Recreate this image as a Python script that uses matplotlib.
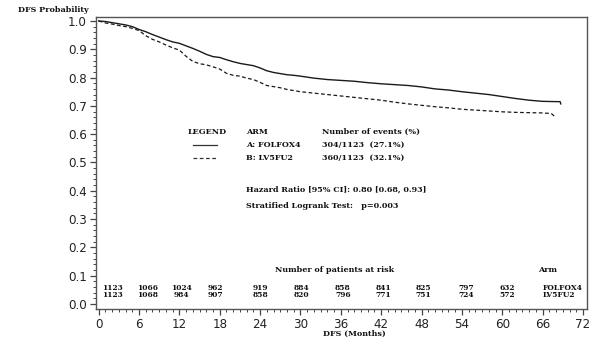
import matplotlib
matplotlib.use("Agg")
import matplotlib.pyplot as plt
from matplotlib.ticker import MultipleLocator

# Kaplan-Meier estimates
t_a = [0, 1, 2, 3, 4, 5, 6, 7, 8, 9, 10, 11, 12, 13, 14, 15, 16, 17, 18, 19, 20,
       21, 22, 23, 24, 25, 26, 27, 28, 29, 30, 32, 34, 36, 38, 40, 42, 44, 46, 48,
       50, 52, 54, 56, 58, 60, 62, 64, 66, 68, 68.6, 68.7]
s_a = [1.0, 0.998, 0.994, 0.99, 0.986, 0.98, 0.97, 0.962, 0.952, 0.943, 0.934,
       0.926, 0.921, 0.912, 0.903, 0.893, 0.882, 0.874, 0.871, 0.863, 0.856,
       0.85, 0.846, 0.842, 0.834, 0.824, 0.818, 0.814, 0.81, 0.808, 0.805, 0.798,
       0.793, 0.79, 0.787, 0.782, 0.778, 0.775, 0.772, 0.767, 0.76, 0.756, 0.75,
       0.745, 0.74, 0.733, 0.726, 0.72, 0.716, 0.715, 0.715, 0.707]

t_b = [0, 1, 2, 3, 4, 5, 6, 7, 8, 9, 10, 11, 12, 13, 14, 15, 16, 17, 18, 19, 20,
       21, 22, 23, 24, 25, 26, 27, 28, 29, 30, 32, 34, 36, 38, 40, 42, 44, 46, 48,
       50, 52, 54, 56, 58, 60, 62, 64, 66, 67.3, 67.9]
s_b = [1.0, 0.993, 0.989, 0.984, 0.98, 0.974, 0.966, 0.948, 0.935, 0.926, 0.915,
       0.905, 0.897, 0.875, 0.857, 0.849, 0.845, 0.838, 0.83, 0.815, 0.808,
       0.805, 0.798, 0.793, 0.783, 0.772, 0.768, 0.764, 0.758, 0.754, 0.75, 0.745,
       0.74, 0.735, 0.73, 0.725, 0.72, 0.713, 0.707, 0.702, 0.697, 0.693, 0.688,
       0.685, 0.682, 0.679, 0.677, 0.676, 0.675, 0.673, 0.66]

risk_a = [1123, 1066, 1024, 962, 919, 884, 858, 841, 825, 797, 632]
risk_b = [1123, 1068, 984, 907, 858, 820, 796, 771, 751, 724, 572]
arm_names = ["FOLFOX4", "LV5FU2"]
arm_labels = ["A: FOLFOX4", "B: LV5FU2"]
events = ["304/1123  (27.1%)", "360/1123  (32.1%)"]

# where SAS put the at-risk columns (months)
risk_pos = [2.05, 7.27, 12.26, 17.4, 24.1, 30.1, 36.3, 42.3, 48.3, 54.6, 60.8]

W, H = 607, 348
fig = plt.figure(figsize=(W / 100, H / 100), dpi=100)
ax = fig.add_axes([96 / W, 1 - 309 / H, 491 / W, 292 / H])

def px(x, y):
    return x / W, 1 - y / H

bold = dict(family="DejaVu Serif", weight="bold", size=5.8, color="#111111")
small = dict(bold, size=5.4)

ax.plot(t_a, s_a, color="#1a1a1a", lw=1.0)
ax.plot(t_b, s_b, color="#1a1a1a", lw=0.9, dashes=(3, 2))

ax.set_xlim(-0.4, 72.6)
ax.set_ylim(-0.0177, 1.014)
ax.xaxis.set_major_locator(MultipleLocator(6))
ax.xaxis.set_minor_locator(MultipleLocator(1))
ax.yaxis.set_major_locator(MultipleLocator(0.1))
ax.yaxis.set_minor_locator(MultipleLocator(0.02))
ax.yaxis.set_major_formatter(plt.FuncFormatter(lambda v, p: f"{v:.1f}"))
ax.tick_params(which="major", length=4, width=0.9, color="#444444",
               labelsize=8.6, labelcolor="#222222", pad=2.5)
ax.tick_params(which="minor", length=2, width=0.7, color="#444444")
for s in ax.spines.values():
    s.set_color("#555555")
    s.set_linewidth(1.0)

fig.text(*px(18, 10), "DFS Probability", va="center", ha="left", **bold)
fig.text(*px(354, 334), "DFS (Months)", va="center", ha="center", **bold)

# legend block
fig.text(*px(188, 131.5), "LEGEND", va="center", **bold)
fig.text(*px(246, 131.5), "ARM", va="center", **bold)
fig.text(*px(322, 131.5), "Number of events (%)", va="center", **bold)
for i, yy in enumerate([145, 157.5]):
    fig.text(*px(246, yy), arm_labels[i], va="center", **bold)
    fig.text(*px(322, yy), events[i], va="center", **bold)
fig.add_artist(plt.Line2D([193 / W, 217 / W], [1 - 144.5 / H] * 2,
                          color="#333333", lw=0.9))
fig.add_artist(plt.Line2D([193 / W, 216 / W], [1 - 157.5 / H] * 2,
                          color="#333333", lw=0.9, dashes=(3, 2)))
fig.text(*px(246, 189.5), "Hazard Ratio [95% CI]: 0.80 [0.68, 0.93]",
         va="center", **bold)
fig.text(*px(246, 206), "Stratified Logrank Test:   p=0.003", va="center", **bold)

# patients at risk
fig.text(*px(275, 270.5), "Number of patients at risk", va="center", **bold)
fig.text(*px(538, 270.5), "Arm", va="center", **bold)
for xp, a, b in zip(risk_pos, risk_a, risk_b):
    ax.text(xp, (304 - 288.3) / 283, str(a), ha="center", va="center", **small)
    ax.text(xp, (304 - 294.8) / 283, str(b), ha="center", va="center", **small)
fig.text(*px(543, 288.3), arm_names[0], va="center", **small)
fig.text(*px(543, 294.8), arm_names[1], va="center", **small)

fig.savefig("out.png", dpi=100)
